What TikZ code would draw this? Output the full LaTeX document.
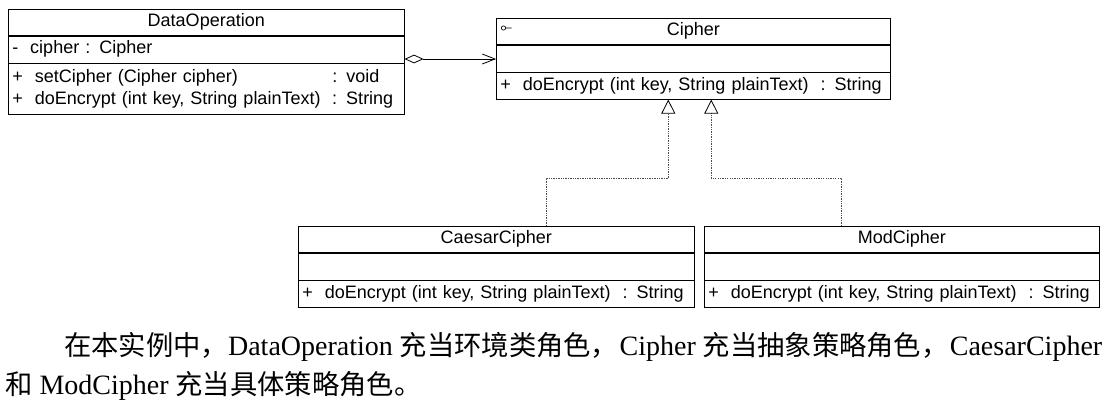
\documentclass[tikz,border=0pt]{standalone}
\usepackage{fontspec}
\setmainfont{Liberation Serif}
\newfontfamily\umlfont{Liberation Sans}
\newfontfamily\cjk[Scale=0.975]{Noto Sans CJK SC}
\usetikzlibrary{positioning,arrows.meta}
\newcommand{\zh}[1]{{\cjk #1}}

\tikzset{
  classhead/.style={draw, anchor=north west, inner sep=0pt, minimum width=#1,
    minimum height=19.5pt, font=\umlfont\fontsize{13.5}{16.5}\selectfont},
  classpart/.style={draw, inner xsep=3pt, inner ysep=0pt, text width=#1, align=left,
    minimum height=20.25pt, font=\umlfont\fontsize{13.5}{16.5}\selectfont},
  aggr/.style={line width=0.6pt,
    {Diamond[open,length=14.25pt,width=6.5pt]}-{Straight Barb[length=9.5pt,width=7.5pt]}},
  realize/.style={draw=black!70, line width=0.6pt, dash pattern=on 1pt off 0.8pt,
    -{Triangle[open,length=10.5pt,width=10.5pt,color=black]}},
  paratext/.style={anchor=base west, inner sep=0pt, font=\fontsize{21}{24}\selectfont}
}

\begin{document}
\begin{tikzpicture}[x=0.75pt,y=-0.75pt]
\useasboundingbox (0,0) rectangle (1110,405);

% DataOperation
\node[classhead=297pt] (dataop) at (8,9) {DataOperation};
\node[classpart=291pt, below=0pt of dataop] (dataopattr) {-\ \ cipher : Cipher};
\node[classpart=291pt, below=0pt of dataopattr, minimum height=38.25pt] (dataopops)
  {\makebox[240pt][l]{+\ \ setCipher (Cipher cipher)}: void\\
   \makebox[240pt][l]{+\ \ doEncrypt (int key, String plainText)}: String};

% Cipher
\node[classhead=295.5pt] (cipher) at (496,18) {Cipher};
\node[classpart=289.5pt, below=0pt of cipher] (cipherattr) {};
\node[classpart=289.5pt, below=0pt of cipherattr] (cipherops)
  {+\ \ doEncrypt (int key, String plainText)\ \ : String};
\draw[line width=0.5pt] ([shift={(7.5,10)}]cipher.north west) circle [radius=1.6pt]
  ([shift={(9.7,10)}]cipher.north west) -- ++(6,0);

% CaesarCipher
\node[classhead=297pt] (caesar) at (298,226) {CaesarCipher};
\node[classpart=291pt, below=0pt of caesar] (caesarattr) {};
\node[classpart=291pt, below=0pt of caesarattr] (caesarops)
  {+\ \ doEncrypt (int key, String plainText)\ \ : String};

% ModCipher
\node[classhead=296.25pt] (mod) at (704,226) {ModCipher};
\node[classpart=290.25pt, below=0pt of mod] (modattr) {};
\node[classpart=290.25pt, below=0pt of modattr] (modops)
  {+\ \ doEncrypt (int key, String plainText)\ \ : String};

% connectors
\coordinate (aggy) at (0,59);
\draw[aggr] (dataopattr.east |- aggy) -- (cipherattr.west |- aggy);
\draw[realize] ([shift={(50,0)}]caesar.north) -- ++(0,-48)
  -| ([shift={(-25,0)}]cipherops.south);
\draw[realize] ([shift={(-60.5,0)}]mod.north) -- ++(0,-48)
  -| ([shift={(18,0)}]cipherops.south);

% text below
\node[paratext] (line1) at (64,355) {\makebox[778.5pt][s]{\zh{在本实例中，}DataOperation
  \zh{充当环境类角色，}\hskip 0pt plus 1fil Cipher \zh{充当抽象策略角色，}\hskip 0pt plus 1fil CaesarCipher}};
\node[paratext] (line2) at (5,394) {\zh{和} ModCipher \zh{充当具体策略角色。}};
\end{tikzpicture}
\end{document}
